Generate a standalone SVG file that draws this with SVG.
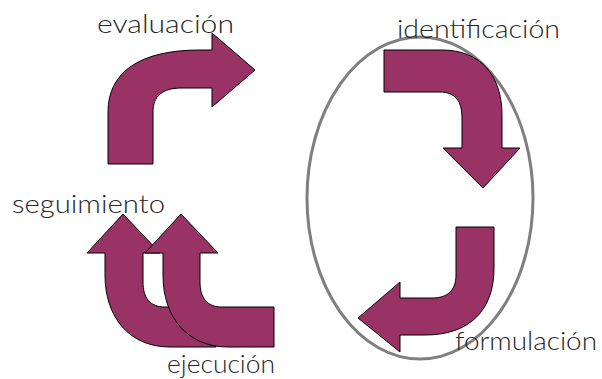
<svg xmlns="http://www.w3.org/2000/svg" width="602" height="379" viewBox="0 0 602 379">
<style>
.arrow{fill:#993366;stroke:#000;stroke-width:1;stroke-linejoin:miter}
.lbl{font-family:Lato,"Liberation Sans",Arial,sans-serif;font-weight:300;font-size:25px;fill:#262626}
</style>
<rect width="602" height="379" fill="#fff"/>
<g id="cycle">
<ellipse cx="420" cy="198" rx="113" ry="161" fill="none" stroke="#7f7f7f" stroke-width="3"/>
</g>
<g id="evaluacion">
<path class="arrow" d="M108,164 V112 C108,72 140,50 200,50 H212 V33 L255,70 L212,107 V88 H182 C162,88 153,96 153,112 V164 Z"/>
<text class="lbl" x="97" y="33" textLength="137" lengthAdjust="spacingAndGlyphs">evaluación</text>
</g>
<g id="identificacion">
<path class="arrow" d="M384,50 H442 C480,50 502,75 502,115 V148 H520 L483,188 L443,148 H462 V118 C462,101 455,92 440,92 H384 Z"/>
<text class="lbl" x="397" y="38" textLength="163" lengthAdjust="spacingAndGlyphs">identificación</text>
</g>
<g id="formulacion">
<path class="arrow" d="M456,227 H494 V268 C494,310 470,335 425,335 H400 V352 L358,318 L400,282 V298 H432 C448,298 456,290 456,275 Z"/>
<text class="lbl" x="455" y="350" textLength="142" lengthAdjust="spacingAndGlyphs">formulación</text>
</g>
<g id="seguimiento">
<path class="arrow" d="M105,253 H87 L123,214 L160,253 H143 V282 C143,298 150,307 165,307 H216 V347 H170 C130,347 105,318 105,275 Z"/>
<text class="lbl" x="12" y="213" textLength="153" lengthAdjust="spacingAndGlyphs">seguimiento</text>
</g>
<g id="ejecucion">
<path class="arrow" d="M163,253 H145 L181,214 L218,253 H200 V282 C200,298 207,307 222,307 H274 V347 H228 C188,347 163,318 163,275 Z"/>
<text class="lbl" x="167" y="373" textLength="108" lengthAdjust="spacingAndGlyphs">ejecución</text>
</g>
<g id="connectors"></g>
</svg>
